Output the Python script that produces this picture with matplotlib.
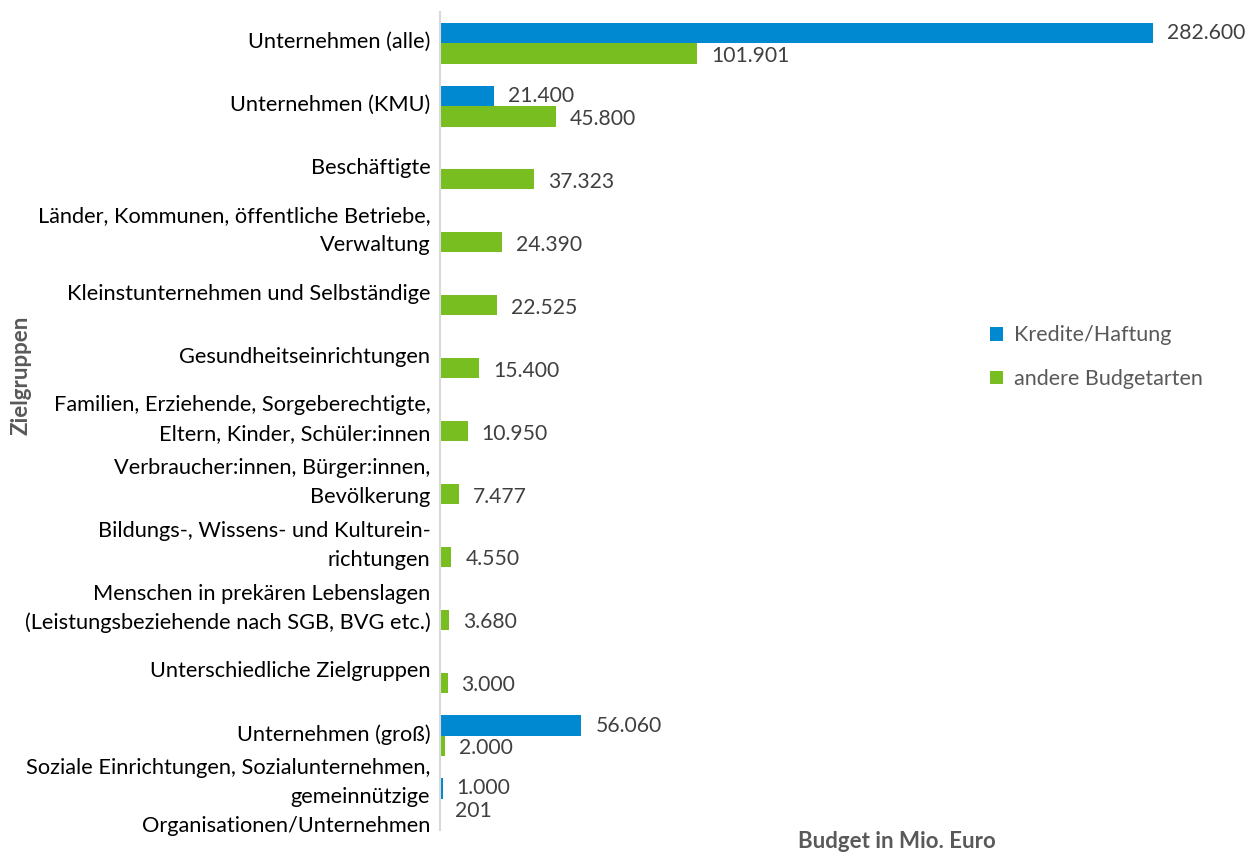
import matplotlib
matplotlib.use("Agg")
import matplotlib.pyplot as plt
import numpy as np

categories = [
    "Unternehmen (alle)",
    "Unternehmen (KMU)",
    "Beschäftigte",
    "Länder, Kommunen, öffentliche Betriebe,\nVerwaltung",
    "Kleinstunternehmen und Selbständige",
    "Gesundheitseinrichtungen",
    "Familien, Erziehende, Sorgeberechtigte,\nEltern, Kinder, Schüler:innen",
    "Verbraucher:innen, Bürger:innen,\nBevölkerung",
    "Bildungs-, Wissens- und Kulturein-\nrichtungen",
    "Menschen in prekären Lebenslagen\n(Leistungsbeziehende nach SGB, BVG etc.)",
    "Unterschiedliche Zielgruppen",
    "Unternehmen (groß)",
    "Soziale Einrichtungen, Sozialunternehmen,\ngemeinnützige\nOrganisationen/Unternehmen",
]
kredite = [282600, 21400, None, None, None, None, None, None, None, None, None, 56060, 1000]
andere = [101901, 45800, 37323, 24390, 22525, 15400, 10950, 7477, 4550, 3680, 3000, 2000, 201]

def fmt(v):
    return f"{v:,}".replace(",", ".")

plt.rcParams['font.family'] = ['Lato', 'DejaVu Sans']

fig = plt.figure(figsize=(12.53, 8.52), dpi=100)
ax = fig.add_axes([440/1253, 1 - 830/852, (1197-440)/1253, (830-12)/852])

blue = "#0089D1"
green = "#78BE20"
n = len(categories)
y = np.arange(n)
h = 0.32

kv = [v if v is not None else 0 for v in kredite]
ax.barh(y - h/2, kv, height=h, color=blue, label="Kredite/Haftung")
ax.barh(y + h/2, andere, height=h, color=green, label="andere Budgetarten")

off = 300000 * 14 / 757
for i in range(n):
    if kredite[i] is not None:
        ax.text(kredite[i] + off, i - h/2, fmt(kredite[i]), va="center", ha="left",
                fontsize=15.2, color="#404040")
    ax.text(andere[i] + off, i + h/2 + 0.04, fmt(andere[i]), va="center", ha="left",
            fontsize=15.2, color="#404040")

ax.set_xlim(0, 300000)
ax.set_ylim(n - 0.5, -0.5)
ax.set_yticks(y - 0.02)
ax.set_yticklabels(categories, fontsize=15.7, color="black", linespacing=1.55, va="center")
ax.tick_params(axis="y", length=0, pad=7)
ax.set_xticks([])
for s in ["top", "right", "bottom"]:
    ax.spines[s].set_visible(False)
ax.spines["left"].set_color("#D9D9D9")
ax.spines["left"].set_linewidth(1.5)

fig.text(21/1253, 1 - 375/852, "Zielgruppen", rotation=90, ha="center", va="center",
         fontsize=16, fontweight="bold", color="#595959")
fig.text(897/1253, 1 - 842/852, "Budget in Mio. Euro", ha="center", va="center",
         fontsize=16, fontweight="bold", color="#595959")

leg = fig.legend(loc="upper left", bbox_to_anchor=(971/1253, 1 - 306/852), frameon=False,
                 fontsize=15.5, labelcolor="#595959", handlelength=0.6, handleheight=0.6,
                 labelspacing=1.1, handletextpad=0.5)

fig.savefig("out.png", dpi=100)
